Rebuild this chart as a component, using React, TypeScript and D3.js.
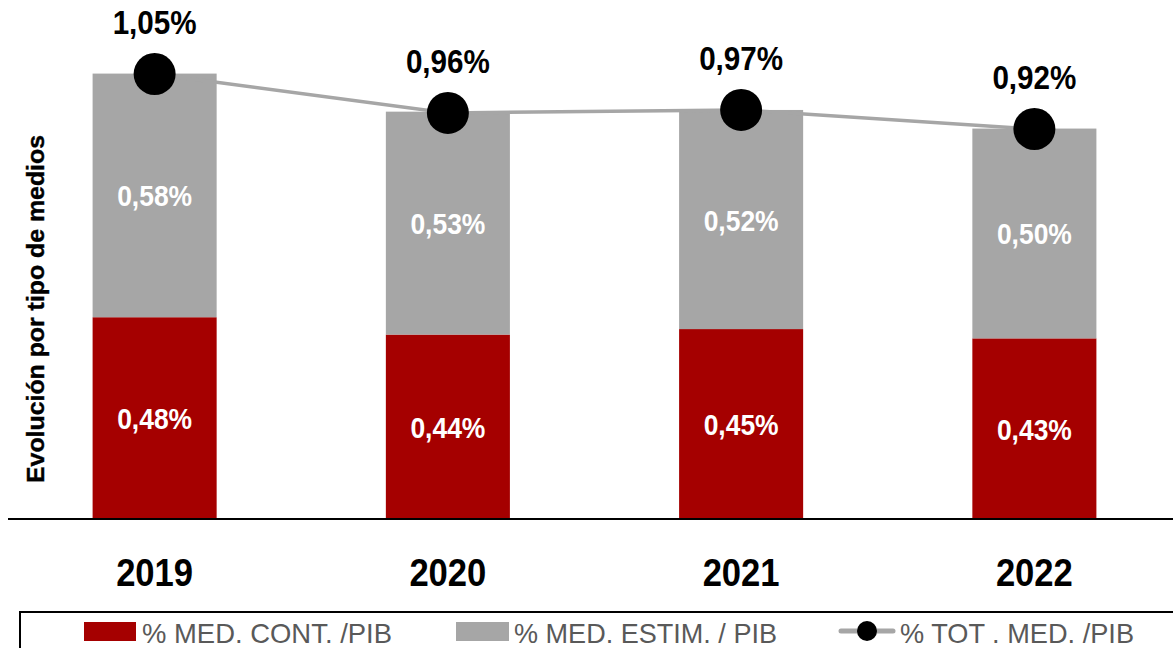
import React from "react";
import * as d3 from "d3";

const years = ["2019", "2020", "2021", "2022"];
const medCont = [0.477, 0.436, 0.449, 0.427];
const medEstim = [0.576, 0.527, 0.518, 0.496];
const totMed = [1.052, 0.96, 0.967, 0.922];
const legendLabels = ["% MED. CONT. /PIB", "% MED. ESTIM. / PIB", "% TOT . MED. /PIB"];
const yTitle = "Evolución por tipo de medios";

const W = 1173;
const H = 648;
const RED = "#a50000";
const GREY = "#a6a6a6";
const FONT = "'Liberation Sans', Arial, sans-serif";

const fmt = (v: number) => v.toFixed(2).replace(".", ",") + "%";

export default function App() {
  const x = d3.scaleBand<string>().domain(years).range([8, 1181]).paddingInner(0.577).paddingOuter(0.2885);
  const y = d3.scaleLinear().domain([0, 1]).range([519, 96]);
  const bw = x.bandwidth();
  const cx = (yr: string) => (x(yr) as number) + bw / 2;

  const line = d3
    .line<number>()
    .x((_, i) => cx(years[i]))
    .y((d) => y(d));

  return (
    <svg width={W} height={H} style={{ position: "absolute", left: 0, top: 0, background: "#fff" }} fontFamily={FONT}>
      <rect x={0} y={0} width={W} height={H} fill="#fff" />
      {years.map((yr, i) => {
        const x0 = x(yr) as number;
        const yRedTop = y(medCont[i]);
        const yGreyTop = y(medCont[i] + medEstim[i]);
        return (
          <g key={yr}>
            <rect x={x0} y={yRedTop} width={bw} height={y(0) - yRedTop} fill={RED} />
            <rect x={x0} y={yGreyTop} width={bw} height={yRedTop - yGreyTop} fill={GREY} />
            <text x={cx(yr)} y={(y(0) + yRedTop) / 2 + 11} textAnchor="middle" fill="#fff" fontWeight="bold" fontSize={30} textLength={75} lengthAdjust="spacingAndGlyphs">
              {fmt(medCont[i])}
            </text>
            <text x={cx(yr)} y={(yRedTop + yGreyTop) / 2 + 11} textAnchor="middle" fill="#fff" fontWeight="bold" fontSize={30} textLength={75} lengthAdjust="spacingAndGlyphs">
              {fmt(medEstim[i])}
            </text>
            <text x={cx(yr)} y={586} textAnchor="middle" fill="#000" fontWeight="bold" fontSize={39} textLength={77} lengthAdjust="spacingAndGlyphs">
              {yr}
            </text>
          </g>
        );
      })}
      <line x1={8} x2={W} y1={y(0)} y2={y(0)} stroke="#000" strokeWidth={2} />
      <path d={line(totMed) || ""} fill="none" stroke={GREY} strokeWidth={3.5} />
      {totMed.map((v, i) => (
        <g key={"t" + i}>
          <circle cx={cx(years[i])} cy={y(v)} r={21} fill="#000" />
          <text x={cx(years[i])} y={y(v) - 40} textAnchor="middle" fill="#000" fontWeight="bold" fontSize={33} textLength={84} lengthAdjust="spacingAndGlyphs">
            {fmt(v)}
          </text>
        </g>
      ))}
      <text
        transform={`translate(44,${(135 + 483) / 2}) rotate(-90)`}
        textAnchor="middle"
        fontWeight="bold"
        fontSize={24}
        fill="#000"
        stroke="#000"
        strokeWidth={0.4}
        textLength={348}
        lengthAdjust="spacingAndGlyphs"
      >
        {yTitle}
      </text>
      {/* legend */}
      <rect x={20} y={612} width={1200} height={100} fill="none" stroke="#000" strokeWidth={2} />
      <rect x={84} y={622} width={52} height={19} fill={RED} />
      <text x={142} y={643} fontSize={28} fill="#595959" textLength={250} lengthAdjust="spacingAndGlyphs">
        {legendLabels[0]}
      </text>
      <rect x={456} y={622} width={53} height={19} fill={GREY} />
      <text x={514} y={643} fontSize={28} fill="#595959" textLength={263} lengthAdjust="spacingAndGlyphs">
        {legendLabels[1]}
      </text>
      <line x1={841} x2={893} y1={631} y2={631} stroke={GREY} strokeWidth={5} strokeLinecap="round" />
      <circle cx={867} cy={631} r={10} fill="#000" />
      <text x={900} y={643} fontSize={28} fill="#595959" textLength={234} lengthAdjust="spacingAndGlyphs">
        {legendLabels[2]}
      </text>
    </svg>
  );
}
